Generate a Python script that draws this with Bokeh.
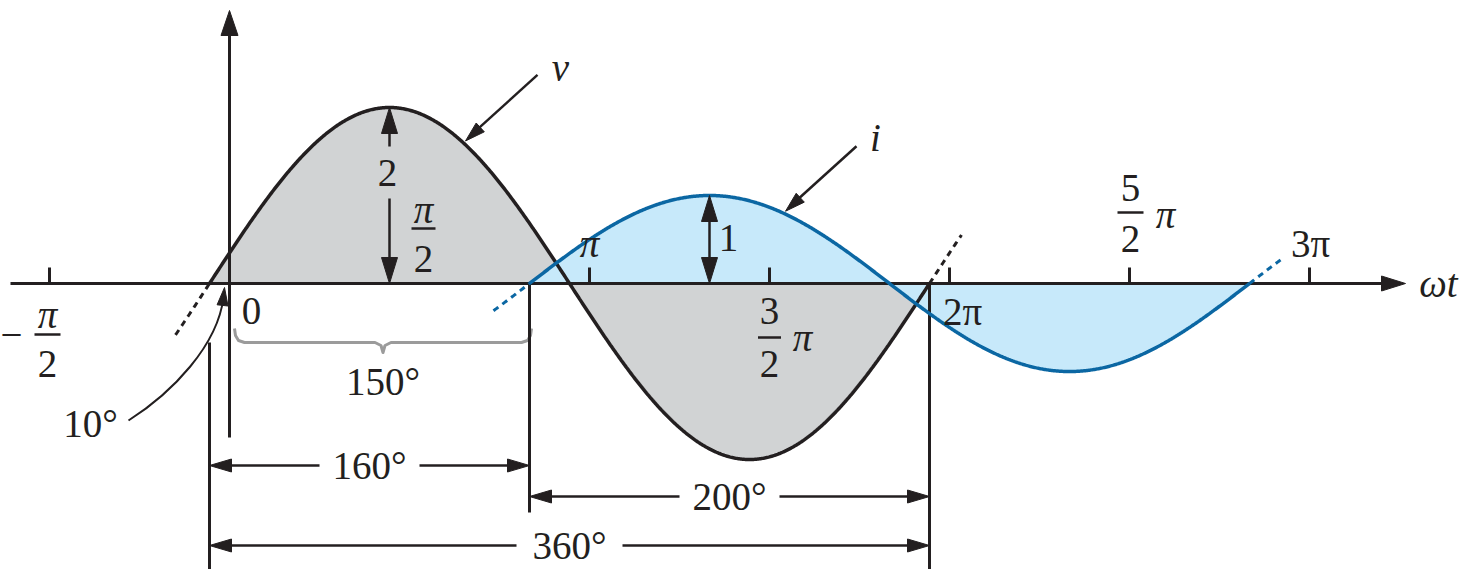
import numpy as np
from bokeh.plotting import figure
from bokeh.models import Range1d
from bokeh.core.properties import value
from bokeh.embed import file_html
from bokeh.resources import INLINE

# ---------------- data ----------------
v_amplitude = 2.0            # v = 2 sin(wt + 10°)
v_phase_deg = 10.0
i_amplitude = 1.0            # i = 1 sin(wt - 150°)
i_phase_deg = -150.0
tick_angles_deg = [-90, 180, 270, 360, 450, 540]
amplitude_labels = ["2", "1"]
lead_label = "10°"
offset_label = "150°"
dimension_labels = ["160°", "200°", "360°"]
curve_names = ["v", "i"]
axis_name = "ωt"

# ---------------- layout ----------------
W, H = 1461, 569
SX = 2.0      # px per degree
SY = 88.0     # px per unit
X0 = 229      # canvas px of 0°
Y0 = 283      # canvas px of value 0
x_start, x_end = -X0 / SX, (W - X0) / SX
y_start, y_end = -(H - Y0) / SY, Y0 / SY

def ox(px):
    return px / SX

def oy(px):
    return px / SY

FONT = "Liberation Serif"
INK = "#231f20"
GRAY_FILL = "#d1d3d4"
BLUE_FILL = "#c7e9fa"
BLUE_LINE = "#0b67a3"
BRACE = "#9b9b9b"

p = figure(width=W, height=H, x_range=Range1d(x_start, x_end), y_range=Range1d(y_start, y_end),
           output_backend="svg", toolbar_location=None, min_border=0,
           x_axis_location=None, y_axis_location=None)
p.grid.visible = False
p.outline_line_color = None
p.background_fill_color = "white"
p.border_fill_color = "white"

# ---------------- curves ----------------
v_start = -v_phase_deg
v_end = v_start + 360
i_start = -i_phase_deg
i_end = i_start + 360

def v_of(a):
    return v_amplitude * np.sin(np.radians(np.asarray(a) + v_phase_deg))

def i_of(a):
    return i_amplitude * np.sin(np.radians(np.asarray(a) + i_phase_deg))

wt_v = np.linspace(v_start, v_end, 721)
wt_i = np.linspace(i_start, i_end, 721)
v = v_of(wt_v)
i = i_of(wt_i)

p.varea(x=wt_v, y1=0, y2=v, fill_color=GRAY_FILL)
p.varea(x=wt_i, y1=0, y2=i, fill_color=BLUE_FILL)

# ---------------- helpers ----------------
heads_x, heads_y = [], []

def head(tx, ty, ux, uy, L=22, Wd=13):
    n = np.hypot(ux, uy)
    ux, uy = ux / n, uy / n
    bx, by = -ux * L, -uy * L
    nx, ny = -uy * Wd / 2, ux * Wd / 2
    heads_x.append([tx, tx + ox(bx + nx), tx + ox(bx - nx)])
    heads_y.append([ty, ty + oy(by + ny), ty + oy(by - ny)])

thick = {"xs": [], "ys": []}
thin = {"xs": [], "ys": []}

def seg(group, x0, y0, x1, y1):
    group["xs"].append([x0, x1])
    group["ys"].append([y0, y1])

texts = []

def txt(x, y, s, size=39, style="normal"):
    texts.append((x, y, s, size, style))

def fraction(xa, num, den, dx_px, num_oy, bar_oy, den_oy, bar_len, num_style="normal"):
    x = xa + ox(dx_px)
    txt(x, oy(num_oy), num, style=num_style)
    seg(thin, x - ox(bar_len / 2), oy(bar_oy), x + ox(bar_len / 2), oy(bar_oy))
    txt(x, oy(den_oy), den)

# ---------------- axes ----------------
x_tip = 588
seg(thick, x_start + ox(10), 0, x_tip - ox(10), 0)
head(x_tip, 0, 1, 0, L=24, Wd=15)
for a in tick_angles_deg:
    seg(thick, a, 0, a, oy(16))

y_tip = oy(273)
seg(thick, 0, oy(-154), 0, y_tip - oy(10))
head(0, y_tip, 0, 1, L=25, Wd=17)

# vertical reference lines
seg(thick, v_start, oy(-59), v_start, y_start)
seg(thick, i_start, 0, i_start, oy(-229))
seg(thick, v_end, 0, v_end, y_start)

# ---------------- dimension arrows ----------------
dims = [(v_start, i_start, -182, 50), (i_start, v_end, -213, 50), (v_start, v_end, -262, 53)]
for (a0, a1, yo, gap), lab in zip(dims, dimension_labels):
    mid = (a0 + a1) / 2
    y = oy(yo)
    seg(thin, a0 + ox(10), y, mid - ox(gap), y)
    seg(thin, mid + ox(gap), y, a1 - ox(10), y)
    head(a0, y, -1, 0)
    head(a1, y, 1, 0)
    txt(mid, y, lab)

# ---------------- amplitude arrows ----------------
v_peak = 90 - v_phase_deg
lab_y = 0.63 * v_amplitude
seg(thin, v_peak, oy(10), v_peak, lab_y - oy(26))
seg(thin, v_peak, lab_y + oy(26), v_peak, v_amplitude - oy(10))
head(v_peak, v_amplitude, 0, 1, L=26, Wd=16)
head(v_peak, 0, 0, -1, L=26, Wd=16)
txt(v_peak - ox(2), lab_y, amplitude_labels[0])

i_peak = 90 - i_phase_deg
seg(thin, i_peak, oy(10), i_peak, i_amplitude - oy(10))
head(i_peak, i_amplitude, 0, 1, L=26, Wd=16)
head(i_peak, 0, 0, -1, L=26, Wd=16)
txt(i_peak + ox(19), 0.52 * i_amplitude, amplitude_labels[1])

# ---------------- pointers to curves ----------------
pointers = [(117.0, v_of(117.0), curve_names[0], (72, 66), (95, 73)),
            (277.0, i_of(277.0), curve_names[1], (71, 65), (90, 74))]
for a, val, name, tail, lab in pointers:
    tx, ty = a + ox(2), float(val) + oy(2)
    seg(thin, tx + ox(tail[0]), ty + oy(tail[1]), tx + ox(8), ty + oy(8))
    head(tx, ty, -tail[0], -tail[1], L=20, Wd=12)
    txt(tx + ox(lab[0]), ty + oy(lab[1]), name, style="italic")

# ---------------- 10° curved arrow ----------------
p.bezier(x0=[ox(-101)], y0=[oy(-137)], x1=[ox(-6)], y1=[oy(-14)],
         cx0=[ox(-57)], cy0=[oy(-109)], cx1=[ox(-12)], cy1=[oy(-62)],
         line_color=INK, line_width=2)
head(ox(-5), oy(-4), 6, 55, L=18, Wd=11)
txt(ox(-139), oy(-140), lead_label)

# ---------------- brace for 150° ----------------
L_ = 0 + ox(5)
R_ = i_start + ox(2)
M_ = (L_ + R_) / 2
bx = [L_, L_ + ox(1), L_ + ox(4), L_ + ox(10), M_ - ox(8), M_ - ox(2), M_,
      M_ + ox(2), M_ + ox(8), R_ - ox(10), R_ - ox(4), R_ - ox(1), R_]
by = [-45, -52, -57, -59, -59, -62, -69, -62, -59, -59, -57, -52, -45]
p.line(x=bx, y=[oy(b) for b in by], line_color=BRACE, line_width=3, line_join="round")
txt(M_, oy(-98), offset_label)

# ---------------- tick labels ----------------
txt(-90 + ox(-38), oy(-51), "−")
fraction(-90, "π", "2", -2, -31, -51, -80, 26, num_style="italic")
txt(ox(22), oy(-27), "0")
fraction(90, "π", "2", 14, 74, 55, 25, 24, num_style="italic")
txt(180, oy(40), "π", style="italic")
fraction(270, "3", "2", 0, -27, -54, -80, 23)
txt(270 + ox(33), oy(-54), "π", style="italic")
txt(360 + ox(13), oy(-28), "2π")
fraction(450, "5", "2", 1, 96, 71, 45, 26)
txt(450 + ox(36), oy(69), "π", style="italic")
txt(540 + ox(1), oy(40), "3π")
txt(x_tip + ox(33), 0, axis_name, style="italic")

# ---------------- draw lines ----------------
p.multi_line(xs=thick["xs"], ys=thick["ys"], line_color=INK, line_width=3)
p.multi_line(xs=thin["xs"], ys=thin["ys"], line_color=INK, line_width=2.5)

ext_v = [np.linspace(v_start - 17, v_start, 30), np.linspace(v_end, v_end + 16, 30)]
ext_i = [np.linspace(i_start - 18, i_start, 30), np.linspace(i_end, i_end + 17, 30)]
p.multi_line(xs=[list(e) for e in ext_v], ys=[list(v_of(e)) for e in ext_v],
             line_color=INK, line_width=3, line_dash="6 5")
p.multi_line(xs=[list(e) for e in ext_i], ys=[list(i_of(e)) for e in ext_i],
             line_color=BLUE_LINE, line_width=3, line_dash="6 5")
p.line(wt_v, v, line_color=INK, line_width=3.5)
p.line(wt_i, i, line_color=BLUE_LINE, line_width=3.5)

p.patches(xs=heads_x, ys=heads_y, fill_color=INK, line_color=INK, line_width=1)

# ---------------- texts ----------------
for x, y, s, size, style in texts:
    p.text(x=[x], y=[y], text=[s], text_font=value(FONT), text_font_size=f"{size}px",
           text_font_style=style, text_color=INK, text_align="center", text_baseline="middle")

open("out.html", "w").write(file_html(p, INLINE))
